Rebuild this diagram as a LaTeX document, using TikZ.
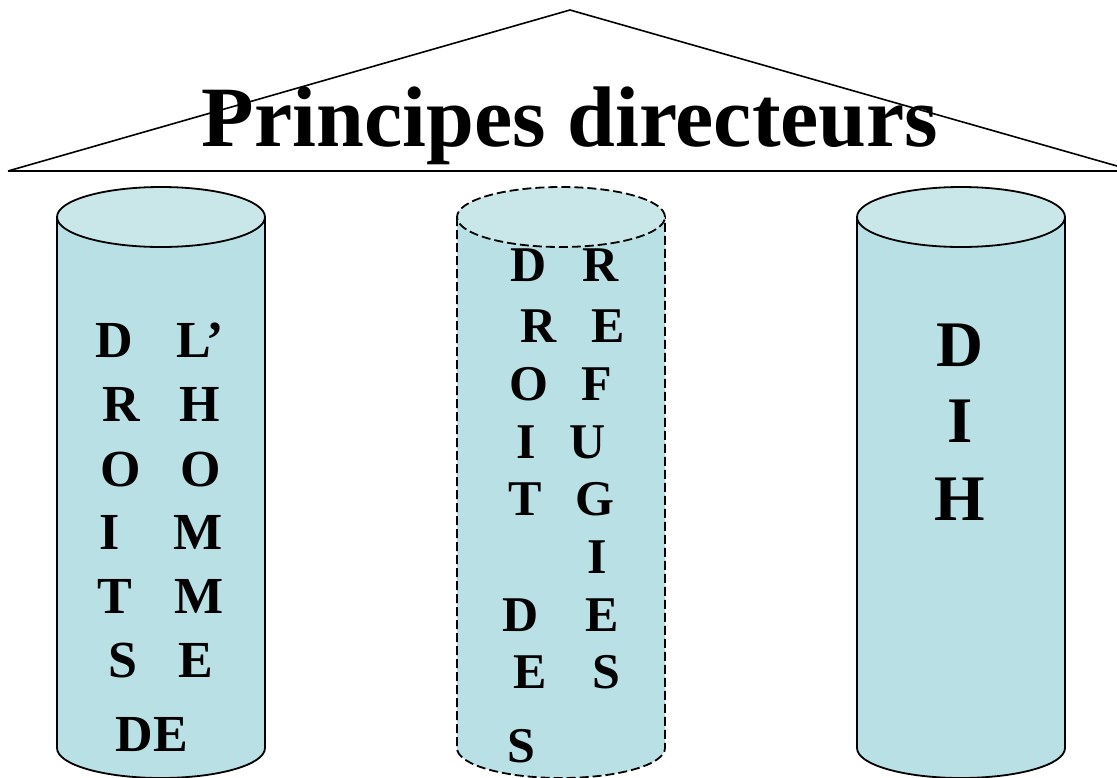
\documentclass[tikz,border=0pt]{standalone}
\usepackage{fontspec}
\setmainfont{Liberation Serif}
\definecolor{body}{RGB}{185,224,228}
\definecolor{lid}{RGB}{201,230,233}
\tikzset{
  x=1pt, y=1pt,
  outline/.style={line width=1.8pt, draw=black},
  dashline/.style={line width=1.8pt, draw=black, dash pattern=on 9pt off 4pt},
  letterL/.style={anchor=base, inner sep=0pt, font=\fontsize{52}{52}\selectfont\bfseries},
  letterM/.style={anchor=base, inner sep=0pt, font=\fontsize{50}{50}\selectfont\bfseries},
  letterR/.style={anchor=base, inner sep=0pt, font=\fontsize{65}{65}\selectfont\bfseries},
  titletext/.style={anchor=base, inner sep=0pt, font=\fontsize{86}{86}\selectfont\bfseries},
}
\begin{document}
\begin{tikzpicture}
\useasboundingbox (0,0) rectangle (1117,-777);
\clip (0,0) rectangle (1117,-777);
% roof
\draw[line width=1.6pt] (8,-171) -- (570,-10) -- (1117,-166);
\draw[line width=1.6pt] (8,-171) -- (1117,-171);
\node[titletext] (title) at (570,-146) {Principes directeurs};
% cylinders
\foreach \cx/\st in {161/outline, 561/dashline, 961/outline}{
  \fill[body] (\cx-104,-217) -- (\cx-104,-748) arc[start angle=180, end angle=360, x radius=104, y radius=30] -- (\cx+104,-217) -- cycle;
  \draw[\st] (\cx-104,-217) -- (\cx-104,-748) arc[start angle=180, end angle=360, x radius=104, y radius=30] -- (\cx+104,-217);
  \draw[\st, fill=lid] (\cx,-217) ellipse[x radius=104, y radius=30];
}
% left column: DROITS DE L'HOMME
\node[letterL] (l1a) at (114,-357) {D};
\node[letterL] (l1b) at (200,-357) {L’};
\node[letterL] (l2a) at (121,-421) {R};
\node[letterL] (l2b) at (200,-421) {H};
\node[letterL] (l3a) at (121,-486) {O};
\node[letterL] (l3b) at (201,-486) {O};
\node[letterL] (l4a) at (110,-549) {I};
\node[letterL] (l4b) at (198,-549) {M};
\node[letterL] (l5a) at (115,-613) {T};
\node[letterL] (l5b) at (199,-613) {M};
\node[letterL] (l6a) at (123,-677) {S};
\node[letterL] (l6b) at (196,-677) {E};
\node[letterL] (l7) at (152,-751) {DE};
% middle column: DROIT DES REFUGIES
\node[letterM] (m1a) at (529,-281) {D};
\node[letterM] (m1b) at (601,-281) {R};
\node[letterM] (m2a) at (539,-342) {R};
\node[letterM] (m2b) at (608,-342) {E};
\node[letterM] (m3a) at (529,-400) {O};
\node[letterM] (m3b) at (597,-400) {F};
\node[letterM] (m4a) at (526,-458) {I};
\node[letterM] (m4b) at (588,-458) {U};
\node[letterM] (m5a) at (525,-515) {T};
\node[letterM] (m5b) at (595,-515) {G};
\node[letterM] (m6b) at (597,-573) {I};
\node[letterM] (m7a) at (521,-631) {D};
\node[letterM] (m7b) at (602,-631) {E};
\node[letterM] (m8a) at (530,-688) {E};
\node[letterM] (m8b) at (606,-688) {S};
\node[letterM] (m9a) at (521,-762) {S};
% right column: DIH
\node[letterR] (r1) at (960,-366) {D};
\node[letterR] (r2) at (960,-442) {I};
\node[letterR] (r3) at (960,-520) {H};
\end{tikzpicture}
\end{document}
